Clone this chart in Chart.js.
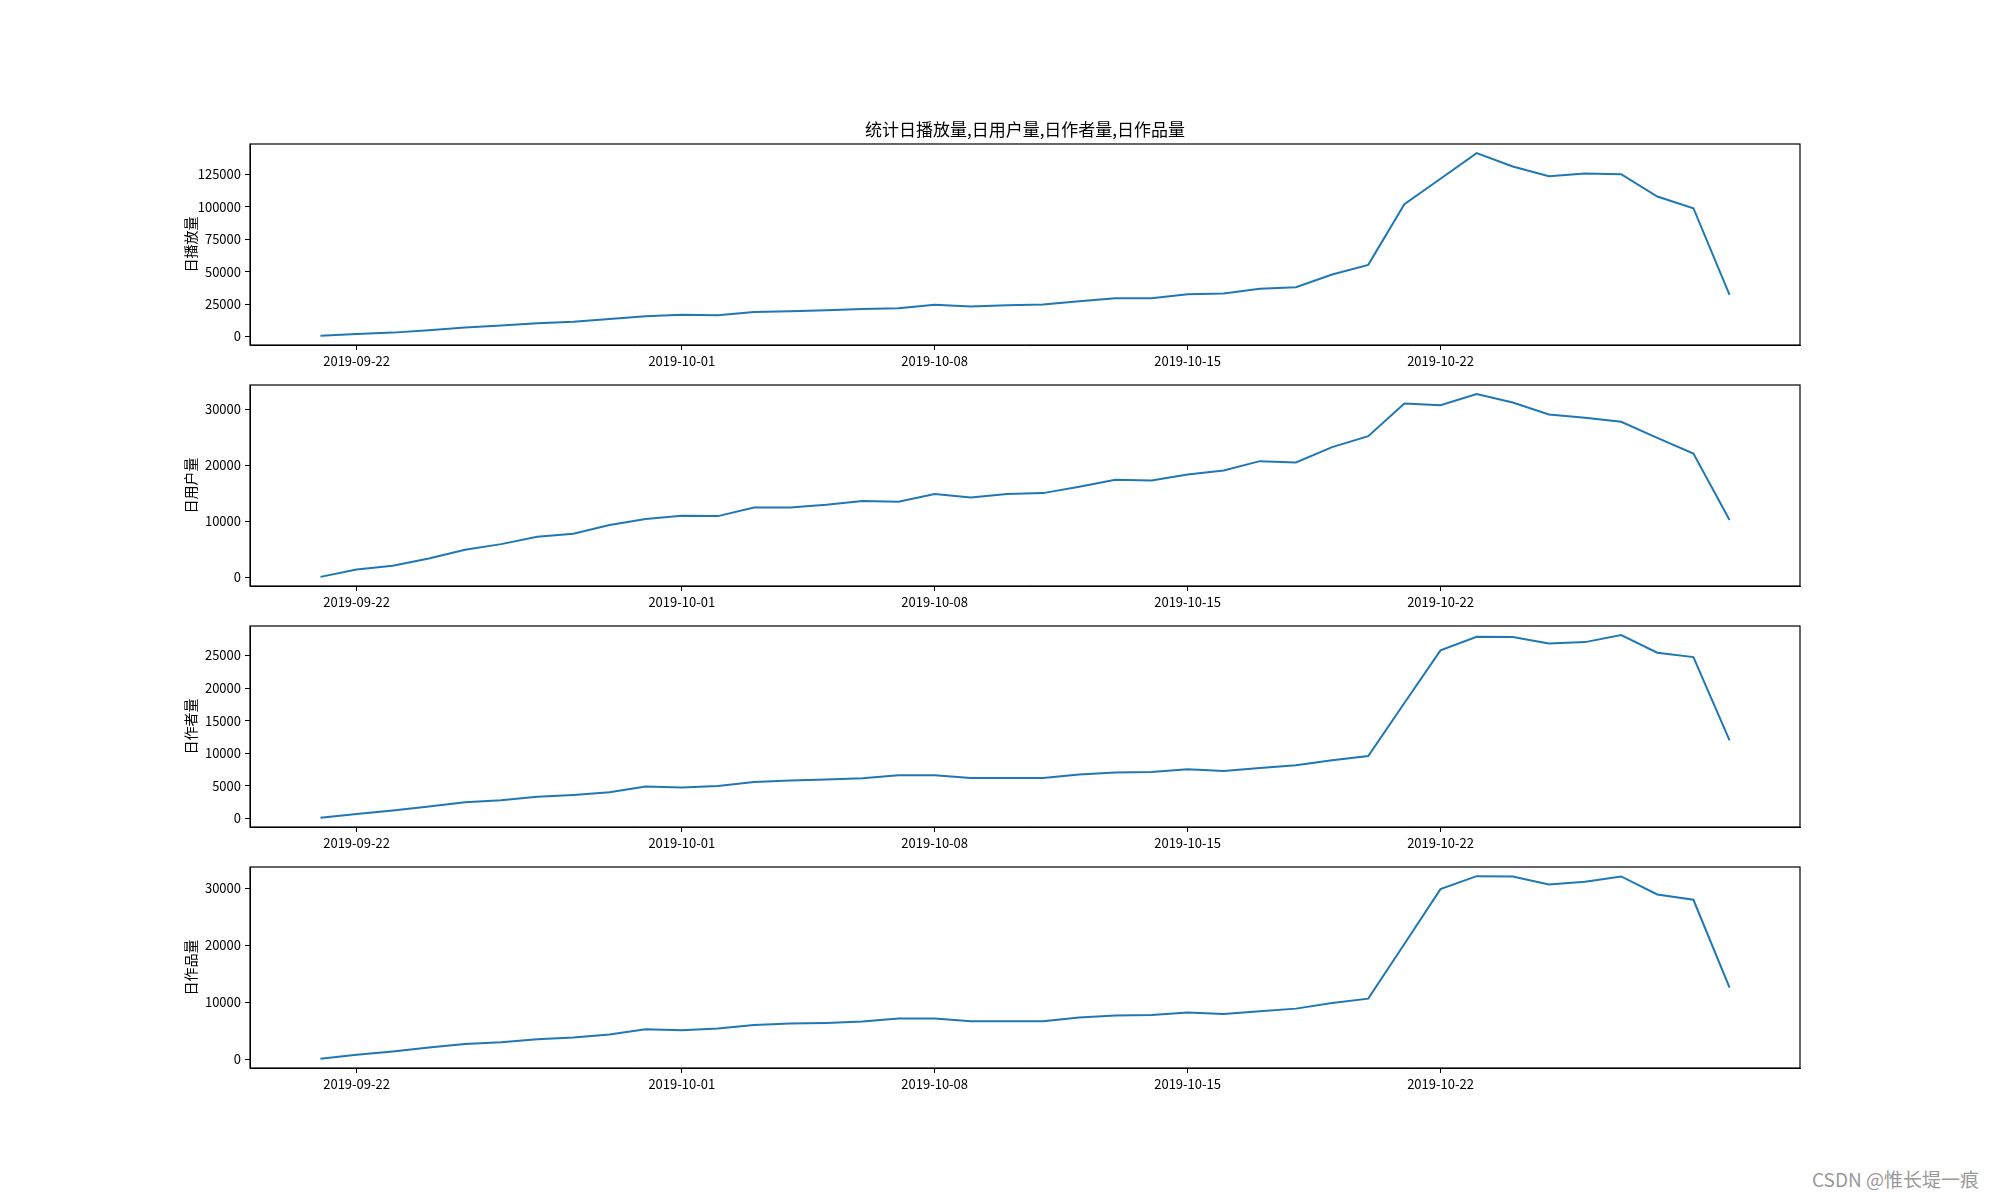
<!DOCTYPE html>
<html>
<head>
<meta charset="utf-8">
<script src="https://cdn.jsdelivr.net/npm/chart.js@4/dist/chart.umd.min.js"></script>
<style>
  body { margin: 0; background: #fff; width: 2000px; height: 1200px; position: relative; overflow: hidden; }
  canvas { position: absolute; }
  #mark { position: absolute; left: 1812px; top: 1165px; font: 19px "Noto Sans CJK SC", sans-serif; color: #9a9a9a; white-space: nowrap; }
</style>
</head>
<body>
<canvas id="c0" width="1822" height="286" style="left:178px; top:99px"></canvas>
<canvas id="c1" width="1822" height="242" style="left:178px; top:384px"></canvas>
<canvas id="c2" width="1822" height="242" style="left:178px; top:625px"></canvas>
<canvas id="c3" width="1822" height="242" style="left:178px; top:866px"></canvas>
<div id="mark">CSDN @惟长堤一痕</div>
<script>
const dates = [
    '2019-09-21', '2019-09-22', '2019-09-23', '2019-09-24', '2019-09-25', '2019-09-26', '2019-09-27', '2019-09-28',
    '2019-09-29', '2019-09-30', '2019-10-01', '2019-10-02', '2019-10-03', '2019-10-04', '2019-10-05', '2019-10-06',
    '2019-10-07', '2019-10-08', '2019-10-09', '2019-10-10', '2019-10-11', '2019-10-12', '2019-10-13', '2019-10-14',
    '2019-10-15', '2019-10-16', '2019-10-17', '2019-10-18', '2019-10-19', '2019-10-20', '2019-10-21', '2019-10-22',
    '2019-10-23', '2019-10-24', '2019-10-25', '2019-10-26', '2019-10-27', '2019-10-28', '2019-10-29', '2019-10-30'
];

// 日播放量
const plays = [500, 2000, 3000, 4900, 7000, 8500, 10300, 11300, 13600, 15700, 16700, 16500, 19000, 19500, 20300, 21300,
    21900, 24500, 23150, 24200, 24700, 27300, 29600, 29600, 32700, 33200, 36800, 38100, 47800, 55300, 102100, 121700,
    141500, 131200, 123700, 125800, 125300, 108000, 99000, 32150];
// 日用户量
const users = [100, 1430, 2080, 3390, 4940, 5950, 7260, 7800, 9350, 10420, 11000, 10950, 12500, 12500, 12980, 13630,
    13510, 14880, 14290, 14880, 15060, 16190, 17440, 17320, 18390, 19110, 20770, 20540, 23270, 25240, 31070, 30770,
    32740, 31250, 29110, 28510, 27800, 24940, 22140, 10240];
// 日作者量
const authors = [100, 710, 1220, 1840, 2500, 2800, 3320, 3620, 4030, 4900, 4740, 5000, 5610, 5820, 5970, 6170,
    6630, 6630, 6220, 6220, 6220, 6730, 7040, 7140, 7550, 7300, 7760, 8160, 8930, 9590, 17700, 25770,
    27860, 27810, 26840, 27040, 28110, 25410, 24740, 11990];
// 日作品量
const works = [120, 820, 1400, 2100, 2740, 3030, 3560, 3850, 4370, 5310, 5130, 5420, 6060, 6300, 6410, 6650,
    7170, 7170, 6700, 6700, 6700, 7350, 7700, 7810, 8220, 7990, 8450, 8920, 9910, 10670, 20230, 29850,
    32130, 32070, 30670, 31140, 32070, 28920, 27990, 12590];

const xTickLabels = ['2019-09-22', '2019-10-01', '2019-10-08', '2019-10-15', '2019-10-22'];
const playTicks = [0, 25000, 50000, 75000, 100000, 125000];
const userTicks = [0, 10000, 20000, 30000];
const authorTicks = [0, 5000, 10000, 15000, 20000, 25000];
const workTicks = [0, 10000, 20000, 30000];

const chartTitle = '统计日播放量,日用户量,日作者量,日作品量';

const FONT = '"Noto Sans CJK SC", sans-serif';
const BLUE = '#1f77b4';

function dayIndex(d) {
    return (Date.parse(d) - Date.parse(dates[0])) / 86400000;
}

// matplotlib style 5% margins
function padRange(lo, hi) {
    const p = (hi - lo) * 0.05;
    return [lo - p, hi + p];
}

// axes box + title centred over the plot area (like plt.title)
const frame = {
    id: 'frame',
    afterDraw(chart, args, opts) {
        const a = chart.chartArea;
        const ctx = chart.ctx;
        ctx.save();
        ctx.strokeStyle = '#000';
        ctx.lineWidth = 1.2;
        ctx.strokeRect(a.left, a.top, a.right - a.left, a.bottom - a.top);
        if (opts.text) {
            ctx.fillStyle = '#000';
            ctx.font = '17px ' + FONT;
            ctx.textAlign = 'center';
            ctx.textBaseline = 'middle';
            ctx.fillText(opts.text, (a.left + a.right) / 2, a.top - 14);
        }
        ctx.restore();
    }
};

function makePanel(id, values, yTicks, label, withTitle) {
    const xs = dates.map(dayIndex);
    const [xMin, xMax] = padRange(xs[0], xs[xs.length - 1]);
    const [yMin, yMax] = padRange(Math.min(...values), Math.max(...values));

    return new Chart(document.getElementById(id), {
        type: 'line',
        data: {
            datasets: [{
                data: values.map((v, i) => ({ x: xs[i], y: v })),
                borderColor: BLUE,
                borderWidth: 2,
                pointRadius: 0,
                tension: 0,
                fill: false
            }]
        },
        options: {
            responsive: false,
            animation: false,
            devicePixelRatio: 1,
            layout: { padding: { top: withTitle ? 45 : 1, right: 200, bottom: 0, left: 0 } },
            plugins: {
                legend: { display: false },
                tooltip: { enabled: false },
                frame: { text: withTitle ? chartTitle : '' }
            },
            scales: {
                x: {
                    type: 'linear',
                    min: xMin,
                    max: xMax,
                    afterFit(s) { s.height = 40; s.paddingLeft = 0; s.paddingRight = 0; },
                    afterBuildTicks(s) { s.ticks = xTickLabels.map(l => ({ value: dayIndex(l) })); },
                    grid: { drawOnChartArea: false, tickLength: 5, color: '#000' },
                    border: { color: '#000' },
                    ticks: {
                        color: '#000',
                        font: { family: FONT, size: 13 },
                        padding: 3,
                        maxRotation: 0,
                        autoSkip: false,
                        callback: (v, i) => xTickLabels[i]
                    }
                },
                y: {
                    min: yMin,
                    max: yMax,
                    afterFit(s) { s.width = 72; s.paddingTop = 0; s.paddingBottom = 0; },
                    afterBuildTicks(s) { s.ticks = yTicks.map(v => ({ value: v })); },
                    grid: { drawOnChartArea: false, tickLength: 5, color: '#000' },
                    border: { color: '#000' },
                    ticks: {
                        color: '#000',
                        font: { family: FONT, size: 13 },
                        padding: 4,
                        autoSkip: false,
                        callback: v => String(v)
                    },
                    title: {
                        display: true,
                        text: label,
                        color: '#000',
                        font: { family: FONT, size: 14 },
                        padding: { top: 4, bottom: 4 }
                    }
                }
            }
        },
        plugins: [frame]
    });
}

makePanel('c0', plays, playTicks, '日播放量', true);
makePanel('c1', users, userTicks, '日用户量', false);
makePanel('c2', authors, authorTicks, '日作者量', false);
makePanel('c3', works, workTicks, '日作品量', false);
</script>
</body>
</html>
